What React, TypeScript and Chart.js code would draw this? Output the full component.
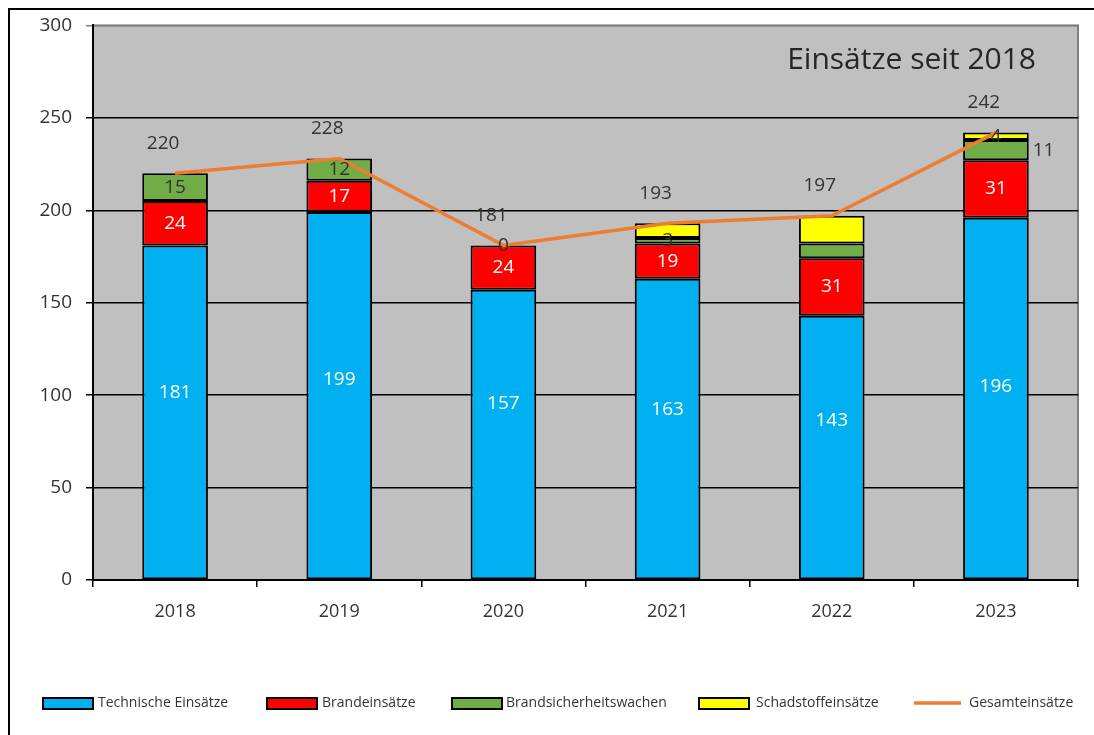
import React, { useEffect, useRef } from 'react';
import { Chart, registerables } from 'chart.js';

Chart.register(...registerables);

const years = ['2018', '2019', '2020', '2021', '2022', '2023'];
const technische = [181, 199, 157, 163, 143, 196];
const brand = [24, 17, 24, 19, 31, 31];
const bsw = [15, 12, 0, 3, 8, 11];
const schad = [0, 0, 0, 8, 15, 4];
const gesamt = [220, 228, 181, 193, 197, 242];
const yTicks = [0, 50, 100, 150, 200, 250, 300];
const titleText = 'Einsätze seit 2018';
const seriesNames = ['Technische Einsätze', 'Brandeinsätze', 'Brandsicherheitswachen', 'Schadstoffeinsätze', 'Gesamteinsätze'];

const FONT = '"Open Sans", sans-serif';
const DARK = '#333333';
const COLORS = ['#00B0F0', '#FF0000', '#70AD47', '#FFFF00', '#ED7D31'];

// label placement per dataset (style, not data)
const labelModes: string[][] = [
  ['center', 'center', 'center', 'center', 'center', 'center'],
  ['center', 'center', 'center', 'center', 'center', 'center'],
  ['center', 'center', 'center', 'center', 'none', 'right'],
  ['none', 'none', 'none', 'none', 'none', 'center'],
  ['above', 'above', 'above', 'above', 'above', 'above'],
];
// manual vertical nudges of the labels inside the blue bars (pixels)
const techLabelNudge = [-20, -16, -31, -19, -27, -12];
const labelColors = ['#FFFFFF', '#FFFFFF', DARK, DARK, DARK];

const framePlugin = {
  id: 'framePlugin',
  beforeDraw(chart: any) {
    const { ctx, chartArea: a, width, height } = chart;
    ctx.save();
    ctx.fillStyle = '#FFFFFF';
    ctx.fillRect(0, 0, width, height);
    ctx.fillStyle = '#C0C0C0';
    ctx.fillRect(a.left, a.top, a.right - a.left, a.bottom - a.top);
    ctx.strokeStyle = '#808080';
    ctx.lineWidth = 2;
    ctx.strokeRect(a.left, a.top, a.right - a.left, a.bottom - a.top);
    // outer frame
    ctx.strokeStyle = '#000000';
    ctx.lineWidth = 2;
    ctx.beginPath();
    ctx.moveTo(9, height);
    ctx.lineTo(9, 9);
    ctx.lineTo(width, 9);
    ctx.stroke();
    ctx.restore();
  },
};

const labelPlugin = {
  id: 'labelPlugin',
  afterDatasetsDraw(chart: any) {
    const { ctx } = chart;
    ctx.save();
    ctx.font = `19px ${FONT}`;
    ctx.textBaseline = 'middle';
    chart.data.datasets.forEach((ds: any, di: number) => {
      const meta = chart.getDatasetMeta(di);
      meta.data.forEach((el: any, i: number) => {
        const mode = labelModes[di][i];
        if (mode === 'none') return;
        const v = ds.data[i];
        ctx.fillStyle = labelColors[di];
        if (mode === 'center') {
          ctx.textAlign = 'center';
          const nudge = di === 0 ? techLabelNudge[i] : 0;
          ctx.fillText(String(v), el.x, (el.y + el.base) / 2 + nudge);
        } else if (mode === 'right') {
          ctx.textAlign = 'left';
          ctx.fillText(String(v), el.x + el.width / 2 + 4, (el.y + el.base) / 2);
        } else if (mode === 'above') {
          ctx.textAlign = 'center';
          ctx.fillText(String(v), el.x - 12, el.y - 30);
        }
      });
    });
    // title
    const a = chart.chartArea;
    ctx.font = `30px ${FONT}`;
    ctx.fillStyle = '#262626';
    ctx.textAlign = 'right';
    ctx.fillText(titleText, a.right - 42, 60);
    ctx.restore();
  },
  afterDraw(chart: any) {
    const { ctx } = chart;
    ctx.save();
    ctx.font = `14px ${FONT}`;
    ctx.textBaseline = 'middle';
    ctx.textAlign = 'left';
    const y = 703;
    const boxX = [43, 267, 452, 699];
    const textX = [98, 322, 506, 756];
    for (let i = 0; i < 4; i++) {
      ctx.fillStyle = COLORS[i];
      ctx.fillRect(boxX[i], y - 5, 50, 11);
      ctx.strokeStyle = '#000';
      ctx.lineWidth = 2;
      ctx.strokeRect(boxX[i], y - 5, 50, 11);
      ctx.fillStyle = DARK;
      ctx.fillText(seriesNames[i], textX[i], y);
    }
    ctx.strokeStyle = COLORS[4];
    ctx.lineWidth = 3.5;
    ctx.beginPath();
    ctx.moveTo(914, y);
    ctx.lineTo(961, y);
    ctx.stroke();
    ctx.fillStyle = DARK;
    ctx.fillText(seriesNames[4], 969, y);
    ctx.restore();
  },
};

export default function App() {
  const ref = useRef<HTMLCanvasElement | null>(null);
  useEffect(() => {
    if (!ref.current) return;
    const barDs = (i: number, data: number[]) => ({
      type: 'bar' as const,
      label: seriesNames[i],
      data,
      backgroundColor: COLORS[i],
      borderColor: '#000000',
      borderWidth: 2,
      borderSkipped: false,
      barPercentage: 0.4,
      categoryPercentage: 1,
      stack: 'bars',
      order: 1,
    });
    const chart = new Chart(ref.current, {
      type: 'bar',
      data: {
        labels: years,
        datasets: [
          barDs(0, technische),
          barDs(1, brand),
          barDs(2, bsw),
          barDs(3, schad),
          {
            type: 'line' as const,
            label: seriesNames[4],
            data: gesamt,
            borderColor: COLORS[4],
            borderWidth: 3.5,
            pointRadius: 0,
            fill: false,
            tension: 0,
            stack: 'total',
            order: 0,
          } as any,
        ],
      },
      options: {
        responsive: false,
        animation: false,
        layout: { padding: { left: 0, top: 25, right: 16, bottom: 0 } },
        plugins: {
          legend: { display: false },
          tooltip: { enabled: false },
          title: { display: false },
        },
        scales: {
          x: {
            stacked: true,
            grid: { offset: true, drawOnChartArea: false, drawTicks: true, tickLength: 7, color: '#000', lineWidth: 1.5 },
            border: { color: '#000', width: 2 },
            ticks: { color: DARK, font: { family: FONT, size: 18 }, padding: 14 },
            afterFit: (s: any) => { s.height = 155; },
          },
          y: {
            stacked: true,
            min: 0,
            max: 300,
            afterBuildTicks: (s: any) => { s.ticks = yTicks.map((v) => ({ value: v })); },
            ticks: { color: DARK, font: { family: FONT, size: 19 }, padding: 14 },
            grid: {
              color: (c: any) => (c.tick && c.tick.value === 300 ? '#808080' : '#000000'),
              lineWidth: 1.5,
              tickLength: 7,
            },
            border: { color: '#000', width: 2 },
            afterFit: (s: any) => { s.width = 93; },
          },
        },
      } as any,
      plugins: [framePlugin, labelPlugin],
    });
    return () => chart.destroy();
  }, []);
  return (
    <div style={{ position: 'absolute', left: 0, top: 0, width: 1094, height: 735 }}>
      <canvas ref={ref} width={1094} height={735} style={{ display: 'block' }} />
    </div>
  );
}
